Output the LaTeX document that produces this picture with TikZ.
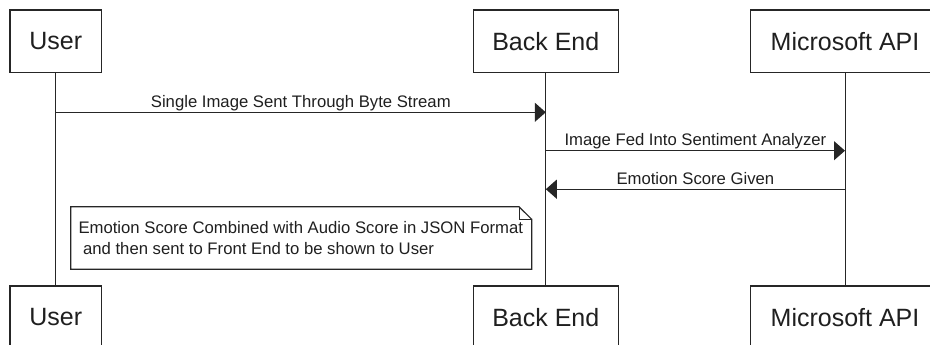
\documentclass[tikz,border=0pt]{standalone}
\usepackage{fontspec}
\setmainfont{Liberation Sans}
\usetikzlibrary{arrows.meta}

\begin{document}
\begin{tikzpicture}[x=1pt,y=-1pt,
    actor/.style={draw=black!85, line width=1.2pt, minimum height=62.7pt, inner sep=0pt, text=black!88, font=\fontsize{25}{30}\selectfont},
    life/.style={draw=black!85, line width=1pt},
    msg/.style={draw=black!85, line width=1.2pt, -{Triangle[length=11pt,width=19pt]}},
    msglabel/.style={midway, anchor=base, yshift=5pt, inner sep=0pt, text=black!88, font=\fontsize{16.7}{20}\selectfont}]
  \useasboundingbox (0,0) rectangle (930,345);
  \clip (0,0) rectangle (930,345);
  % top boxes
  \node[actor, minimum width=91.7pt] (userTop) at (55.8,41.3) {User};
  \node[actor, minimum width=145pt] (backTop) at (545.8,41.3) {Back End};
  \node[actor, minimum width=188.6pt] (msTop) at (845,41.3) {Microsoft API};
  % bottom boxes
  \node[actor, minimum width=91.7pt] (userBot) at (55.8,317.4) {User};
  \node[actor, minimum width=145pt] (backBot) at (545.8,317.4) {Back End};
  \node[actor, minimum width=188.6pt] (msBot) at (845,317.4) {Microsoft API};
  % lifelines
  \draw[life] (userTop) -- (userBot);
  \draw[life] (backTop) -- (backBot);
  \draw[life] (msTop) -- (msBot);
  % message rows
  \coordinate (row1) at (0,112.3);
  \coordinate (row2) at (0,150.7);
  \coordinate (row3) at (0,189.2);
  \draw[msg] (userTop |- row1) -- node[msglabel] (lblByte) {Single Image Sent Through Byte Stream} (backTop |- row1);
  \draw[msg] (backTop |- row2) -- node[msglabel] (lblFed) {Image Fed Into Sentiment Analyzer} (msTop |- row2);
  \draw[msg] (msTop |- row3) -- node[msglabel] (lblScore) {Emotion Score Given} (backTop |- row3);
  % note
  \draw[draw=black!85, line width=1.2pt] (70.7,206.7) -- (519,206.7) -- (531.7,219.3) -- (531.7,269.3) -- (70.7,269.3) -- cycle;
  \draw[draw=black!85, line width=1pt] (519,206.7) -- (519,219.3) -- (531.7,219.3); %fold
  \node[anchor=west, inner sep=0pt, align=left, text=black!88, font=\fontsize{16.7}{20.5}\selectfont] (noteText) at (78.3,237.8)
    {Emotion Score Combined with Audio Score in JSON Format\\\hspace*{4.6pt}and then sent to Front End to be shown to User};
\end{tikzpicture}
\end{document}
